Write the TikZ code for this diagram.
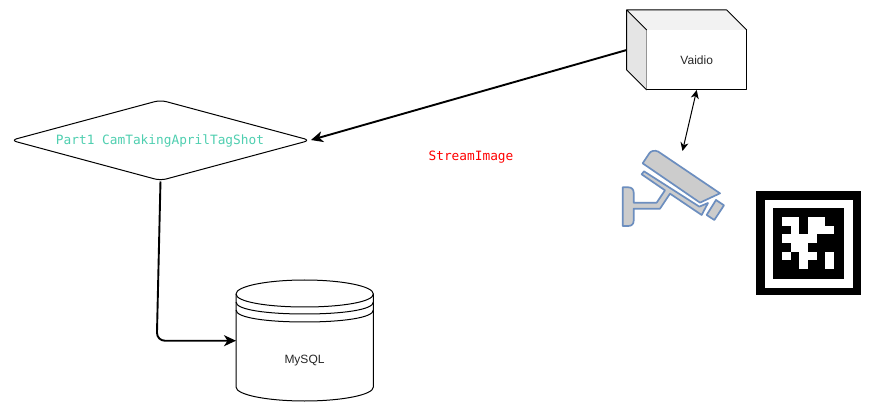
\documentclass[tikz,border=0pt]{standalone}
\usepackage{fontspec}
\setmainfont{Liberation Sans}
\newfontfamily\codefont{DejaVu Sans Mono}
\usetikzlibrary{arrows.meta,shapes.geometric}
\definecolor{camfill}{HTML}{CCCCCC}
\definecolor{camline}{HTML}{6C8EBF}
\definecolor{tealtext}{HTML}{4FCFB0}
\definecolor{redtext}{HTML}{FF0000}
\tikzset{
  shapeline/.style={draw=black,line width=1pt,line join=round},
  thickflow/.style={draw=black,line width=1.9pt,-{Stealth[length=12pt,width=11pt,inset=3.5pt]}},
  thinflow/.style={draw=black,line width=1pt,{Stealth[length=8.5pt,width=8pt,inset=2.5pt]}-{Stealth[length=8.5pt,width=8pt,inset=2.5pt]}},
  plainlabel/.style={font=\fontsize{12}{14}\selectfont,text=black!85,inner sep=0pt},
  codelabel/.style={font=\codefont\fontsize{12.8}{15}\selectfont,inner sep=0pt},
  campart/.style={draw=camline,fill=camfill,line width=1.7pt,line join=round},
  tagwhite/.style={fill=white,draw=none},
}
\begin{document}
\begin{tikzpicture}[x=1pt,y=-1pt]
\useasboundingbox (0,0) rectangle (872,411);
\fill[white] (0,0) rectangle (872,411);

% Vaidio box
\node[shapeline,fill=white,minimum width=100pt,minimum height=60pt,inner sep=0pt,outer sep=0pt] (vaidio) at (696.7,60) {};
\fill[black!10] (626.7,10) -- (646.7,30) -- (646.7,90) -- (626.7,70) -- cycle;
\fill[black!5] (626.7,10) -- (726.7,10) -- (746.7,30) -- (646.7,30) -- cycle;
\draw[shapeline] (646.7,30) -- (626.7,10) -- (726.7,10) -- (746.7,30);
\draw[shapeline] (626.7,10) -- (626.7,70) -- (646.7,90);
\node[plainlabel] (vaidiotext) at (696.7,60) {Vaidio};
\coordinate (vaidioback) at (626.7,50);
\coordinate (camtop) at (682.5,151);

% Decision diamond
\node[diamond,shapeline,rounded corners=6pt,aspect=3.72,minimum width=299pt,minimum height=80.4pt,inner sep=0pt,outer sep=0pt] (part) at (160.5,140.3) {};
\node[codelabel,text=tealtext] (parttext) at (160,140.5) {Part1 CamTakingAprilTagShot};

% Stream label
\node[codelabel,text=redtext] (stream) at (471,157) {StreamImage};

% MySQL cylinder
\node[minimum width=137.4pt,minimum height=120pt,inner sep=0pt,outer sep=0pt] (mysql) at (304.7,340.7) {};
\draw[shapeline,fill=white] (236,294) .. controls (236,286) and (268,280) .. (304.7,280) .. controls (341,280) and (373.4,286) .. (373.4,294)
  -- (373.4,387) .. controls (373.4,395) and (341,401) .. (304.7,401) .. controls (268,401) and (236,395) .. (236,387) -- cycle;
\draw[shapeline] (236,294) .. controls (236,302) and (268,307) .. (304.7,307) .. controls (341,307) and (373.4,302) .. (373.4,294);
\draw[shapeline] (236,302) .. controls (236,310) and (268,314) .. (304.7,314) .. controls (341,314) and (373.4,310) .. (373.4,302);
\draw[shapeline] (236,310) .. controls (236,318) and (268,322) .. (304.7,322) .. controls (341,322) and (373.4,318) .. (373.4,310);
\node[plainlabel] (mysqltext) at (304.5,361) {MySQL};

% Connectors
\coordinate (elbow) at (156.8,340.7);
\draw[thickflow,shorten >=1pt] (vaidioback) -- (part.east);
\draw[thickflow,rounded corners=8pt,shorten <=1pt] (part.south) -- (elbow) -- (mysql.west);
\draw[thinflow] (vaidio.south) -- (camtop);

% Camera
\begin{scope}[shift={(600,130)},x=0.3333pt,y=-0.3333pt]
  \draw[campart] (128,100) -- (148,70) .. controls (153,62) and (165,60) .. (175,65) -- (360,190) -- (300,218) -- cycle;
  \draw[campart] (68,172) -- (85,172) .. controls (95,172) and (101,178) .. (101,188) -- (101,218) -- (170,218) -- (195,181)
    -- (125,133) -- (132,124) -- (298,230) -- (324,219) -- (305,255) -- (210,191) -- (180,236) -- (101,236) -- (101,272)
    .. controls (101,282) and (95,288) .. (85,288) -- (68,288) -- cycle;
  \draw[campart] (348,210) -- (372,226) -- (343,270) -- (320,255) -- cycle;
\end{scope}

% AprilTag
\fill[black] (756,191) rectangle (860.7,295);
\fill[white] (765,200) rectangle (852.7,287.7);
\fill[black] (773.3,208.3) rectangle (844,279);
\begin{scope}[shift={(782,217)},x=8.67pt,y=-8.67pt]
  \fill[tagwhite] (0,0) rectangle (2,1);
  \fill[tagwhite] (3,0) rectangle (5,1);
  \fill[tagwhite] (1,1) rectangle (2,2);
  \fill[tagwhite] (3,1) rectangle (6,2);
  \fill[tagwhite] (0,2) rectangle (4,3);
  \fill[tagwhite] (1,3) rectangle (3,4);
  \fill[tagwhite] (0,4) rectangle (1,5);
  \fill[tagwhite] (2,4) rectangle (4,5);
  \fill[tagwhite] (5,4) rectangle (6,6);
  \fill[tagwhite] (2,5) rectangle (3,6);
\end{scope}
\end{tikzpicture}
\end{document}
